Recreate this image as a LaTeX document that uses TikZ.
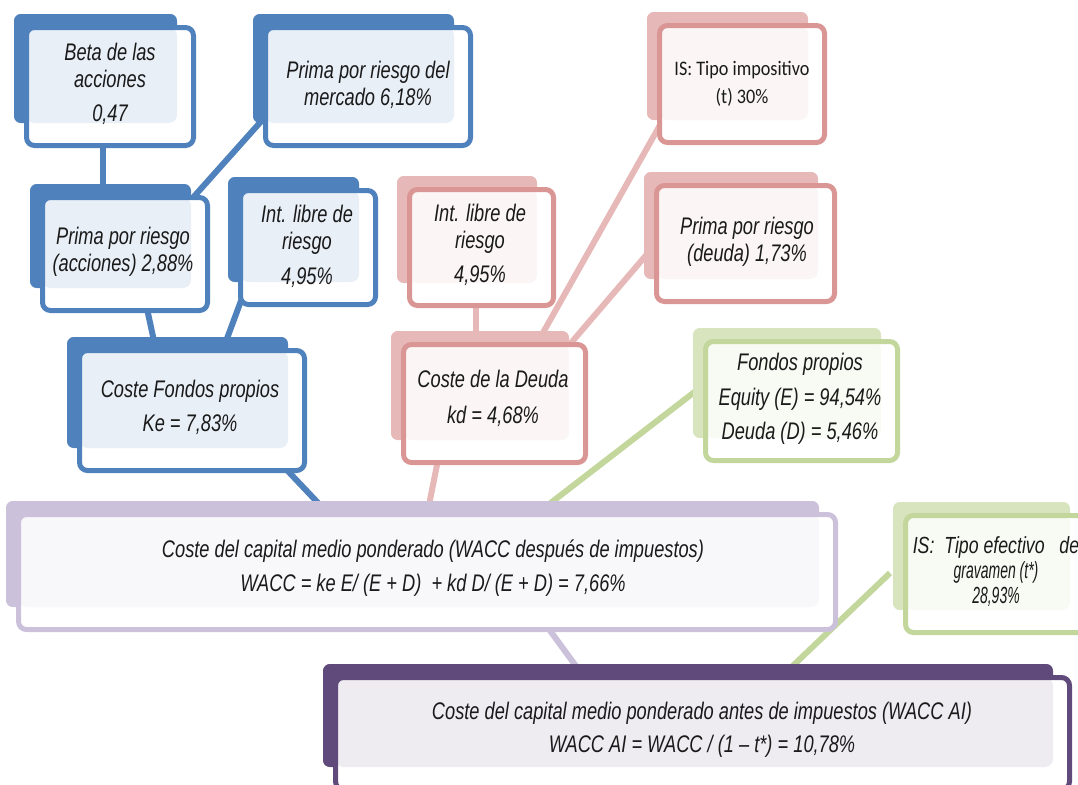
\documentclass[tikz,border=0pt]{standalone}
\usepackage{fontspec}
\setmainfont{Liberation Sans}
\newfontfamily\nit{Liberation Sans}[FakeStretch=0.76]
\newfontfamily\nitn{Liberation Sans}[FakeStretch=0.6]
\newfontfamily\uprfont{Carlito}[FakeStretch=0.88]
\usetikzlibrary{calc}
\pgfdeclarelayer{lines}
\pgfdeclarelayer{tabs}
\pgfsetlayers{lines,tabs,main}
\definecolor{bl}{HTML}{4F81BD}
\definecolor{blt}{HTML}{E9EFF7}
\definecolor{pkb}{HTML}{E6B9B8}
\definecolor{pkd}{HTML}{D99694}
\definecolor{pkt}{HTML}{FBF5F5}
\definecolor{grb}{HTML}{D7E4BD}
\definecolor{grd}{HTML}{C3D69B}
\definecolor{grt}{HTML}{F8FBF3}
\definecolor{lvb}{HTML}{CCC1DA}
\definecolor{lvt}{HTML}{F8F7FA}
\definecolor{pu}{HTML}{604A7B}
\definecolor{put}{HTML}{EEECF1}
\definecolor{ink}{HTML}{1A1A1A}
\tikzset{
  fbox/.style n args={2}{draw=#1, fill=white, line width=3.75pt, rounded corners=6pt,
    inner sep=0pt, outer sep=0pt,
    path picture={\fill[#2] (path picture bounding box.north west) rectangle ($(path picture bounding box.south east)+(-16.5,-22.5)$);}},
  sz/.style 2 args={minimum width={(#1-5)*0.75pt}, minimum height={(#2-5)*0.75pt}},
  txt/.style={font=\nit\itshape\fontsize{18}{20}\selectfont, align=center, inner sep=0pt, text=ink},
  conn/.style={line width=4.5pt},
}
\newcommand\tabfor[2]{\fill[#2, rounded corners=5pt] ($(#1.north west)+(-12.5,-13.5)$) rectangle ($(#1.south east)+(-16.5,-22.5)$);}
\begin{document}
\begin{tikzpicture}[x=0.75pt,y=-0.75pt]
\useasboundingbox (0,0) rectangle (1078,785);
\clip (0,0) rectangle (1078,785);
% boxes
\node[fbox={bl}{blt}, sz={172}{123}] (beta) at (110,86.5) {};
\node[fbox={bl}{blt}, sz={210}{123}] (mercado) at (368,86.5) {};
\node[fbox={bl}{blt}, sz={170}{118}] (acciones) at (125,254) {};
\node[fbox={bl}{blt}, sz={140}{119}] (libreA) at (308,247.5) {};
\node[fbox={bl}{blt}, sz={230}{125}] (keF) at (192,410.5) {};
\node[fbox={pkd}{pkt}, sz={149}{121}] (libreD) at (481.5,247.5) {};
\node[fbox={pkd}{pkt}, sz={170}{122}] (tipoIS) at (742,84) {};
\node[fbox={pkd}{pkt}, sz={183}{121}] (primaD) at (745.5,243.5) {};
\node[fbox={pkd}{pkt}, sz={187}{123}] (kd) at (494.5,403.5) {};
\node[fbox={grd}{grt}, sz={197}{124}] (fondos) at (801.5,401) {};
\node[fbox={grd}{grt}, sz={186}{122}] (tEf) at (996,574) {};
\node[fbox={lvb}{lvt}, sz={822}{120}] (wacc) at (427,572) {};
\node[fbox={pu}{put}, sz={739}{117}] (wai) at (702.5,733.5) {};
% tabs
\begin{pgfonlayer}{tabs}
\tabfor{beta}{bl}
\tabfor{mercado}{bl}
\tabfor{acciones}{bl}
\tabfor{libreA}{bl}
\tabfor{keF}{bl}
\tabfor{libreD}{pkb}
\tabfor{tipoIS}{pkb}
\tabfor{primaD}{pkb}
\tabfor{kd}{pkb}
\tabfor{fondos}{grb}
\tabfor{tEf}{grb}
\tabfor{wacc}{lvb}
\tabfor{wai}{pu}
\end{pgfonlayer}
% connectors
\begin{pgfonlayer}{lines}
\draw[conn, bl] ($(beta.center)+(-7,53.5)$) -- ($(acciones.center)+(-22,-54)$);
\draw[conn, bl] ($(mercado.center)+(-103,30.5)$) -- ($(acciones.center)+(65,-53)$);
\draw[conn, bl] ($(acciones.center)+(18,36)$) -- ($(keF.center)+(-35,-55.5)$);
\draw[conn, bl] ($(libreA.center)+(-60,34.5)$) -- ($(keF.center)+(30,-58.5)$);
\draw[conn, bl] ($(keF.center)+(76,39.5)$) -- ($(wacc.center)+(-107,-67)$);
\draw[conn, pkb] ($(kd.center)+(-52.5,36.5)$) -- ($(wacc.center)+(2,-67)$);
\draw[conn, pkb] ($(libreD.center)+(-5.5,42.5)$) -- ($(kd.center)+(-18.5,-63.5)$);
\draw[conn, pkb] ($(tipoIS.center)+(-78,34)$) -- ($(kd.center)+(45.5,-65.5)$);
\draw[conn, pkb] ($(primaD.center)+(-85.5,-4.5)$) -- ($(kd.center)+(70.5,-53.5)$);
\draw[conn, grd] ($(fondos.center)+(-91.5,-21)$) -- ($(wacc.center)+(121,-67)$);
\draw[conn, lvb] ($(wacc.center)+(108,38)$) -- ($(wai.center)+(-117.5,-55)$);
\draw[conn, grd] ($(tEf.center)+(-106,-1)$) -- ($(wai.center)+(87.5,-65)$);
\end{pgfonlayer}
% texts
\node[txt] (betaT) at (110,84) {Beta de las\\acciones\\[6pt]0,47};
\node[txt] (mercadoT) at (368,85) {Prima por riesgo del\\mercado 6,18\%};
\node[txt] (accionesT) at (123,251.5) {Prima por riesgo\\(acciones) 2,88\%};
\node[txt] (libreAT) at (307,246.5) {Int. libre de\\riesgo\\[6pt]4,95\%};
\node[txt] (keFT) at (190,407.5) {Coste Fondos propios\\[6pt]Ke = 7,83\%};
\node[txt] (libreDT) at (480,245) {Int. libre de\\riesgo\\[6pt]4,95\%};
\node[txt, font=\uprfont\fontsize{15.5}{21}\selectfont] (tipoT) at (742,84) {IS: Tipo impositivo\\(t) 30\%};
\node[txt] (primaDT) at (747,242) {Prima por riesgo\\(deuda) 1,73\%};
\node[txt] (kdT) at (493,398.5) {Coste de la Deuda\\[7pt]kd = 4,68\%};
\node[txt] (fondosT) at (800,399) {Fondos propios\\[6pt]Equity (E) = 94,54\%\\[6pt]Deuda (D) = 5,46\%};
\node[txt, font=\nitn\itshape\fontsize{17.5}{18.75}\selectfont] (tEfT) at (996,572) {{\nit\itshape IS:\ \ Tipo efectivo\ \ \ de}\\gravamen (t*)\\28,93\%};
\node[txt] (waccT) at (433,568) {Coste del capital medio ponderado (WACC después de impuestos)\\[5pt]WACC = ke E/ (E + D)\ \ + kd D/ (E + D) = 7,66\%};
\node[txt] (waiT) at (702,730) {Coste del capital medio ponderado antes de impuestos (WACC AI)\\[5pt]WACC AI = WACC / (1 – t*) = 10,78\%};
\end{tikzpicture}
\end{document}
